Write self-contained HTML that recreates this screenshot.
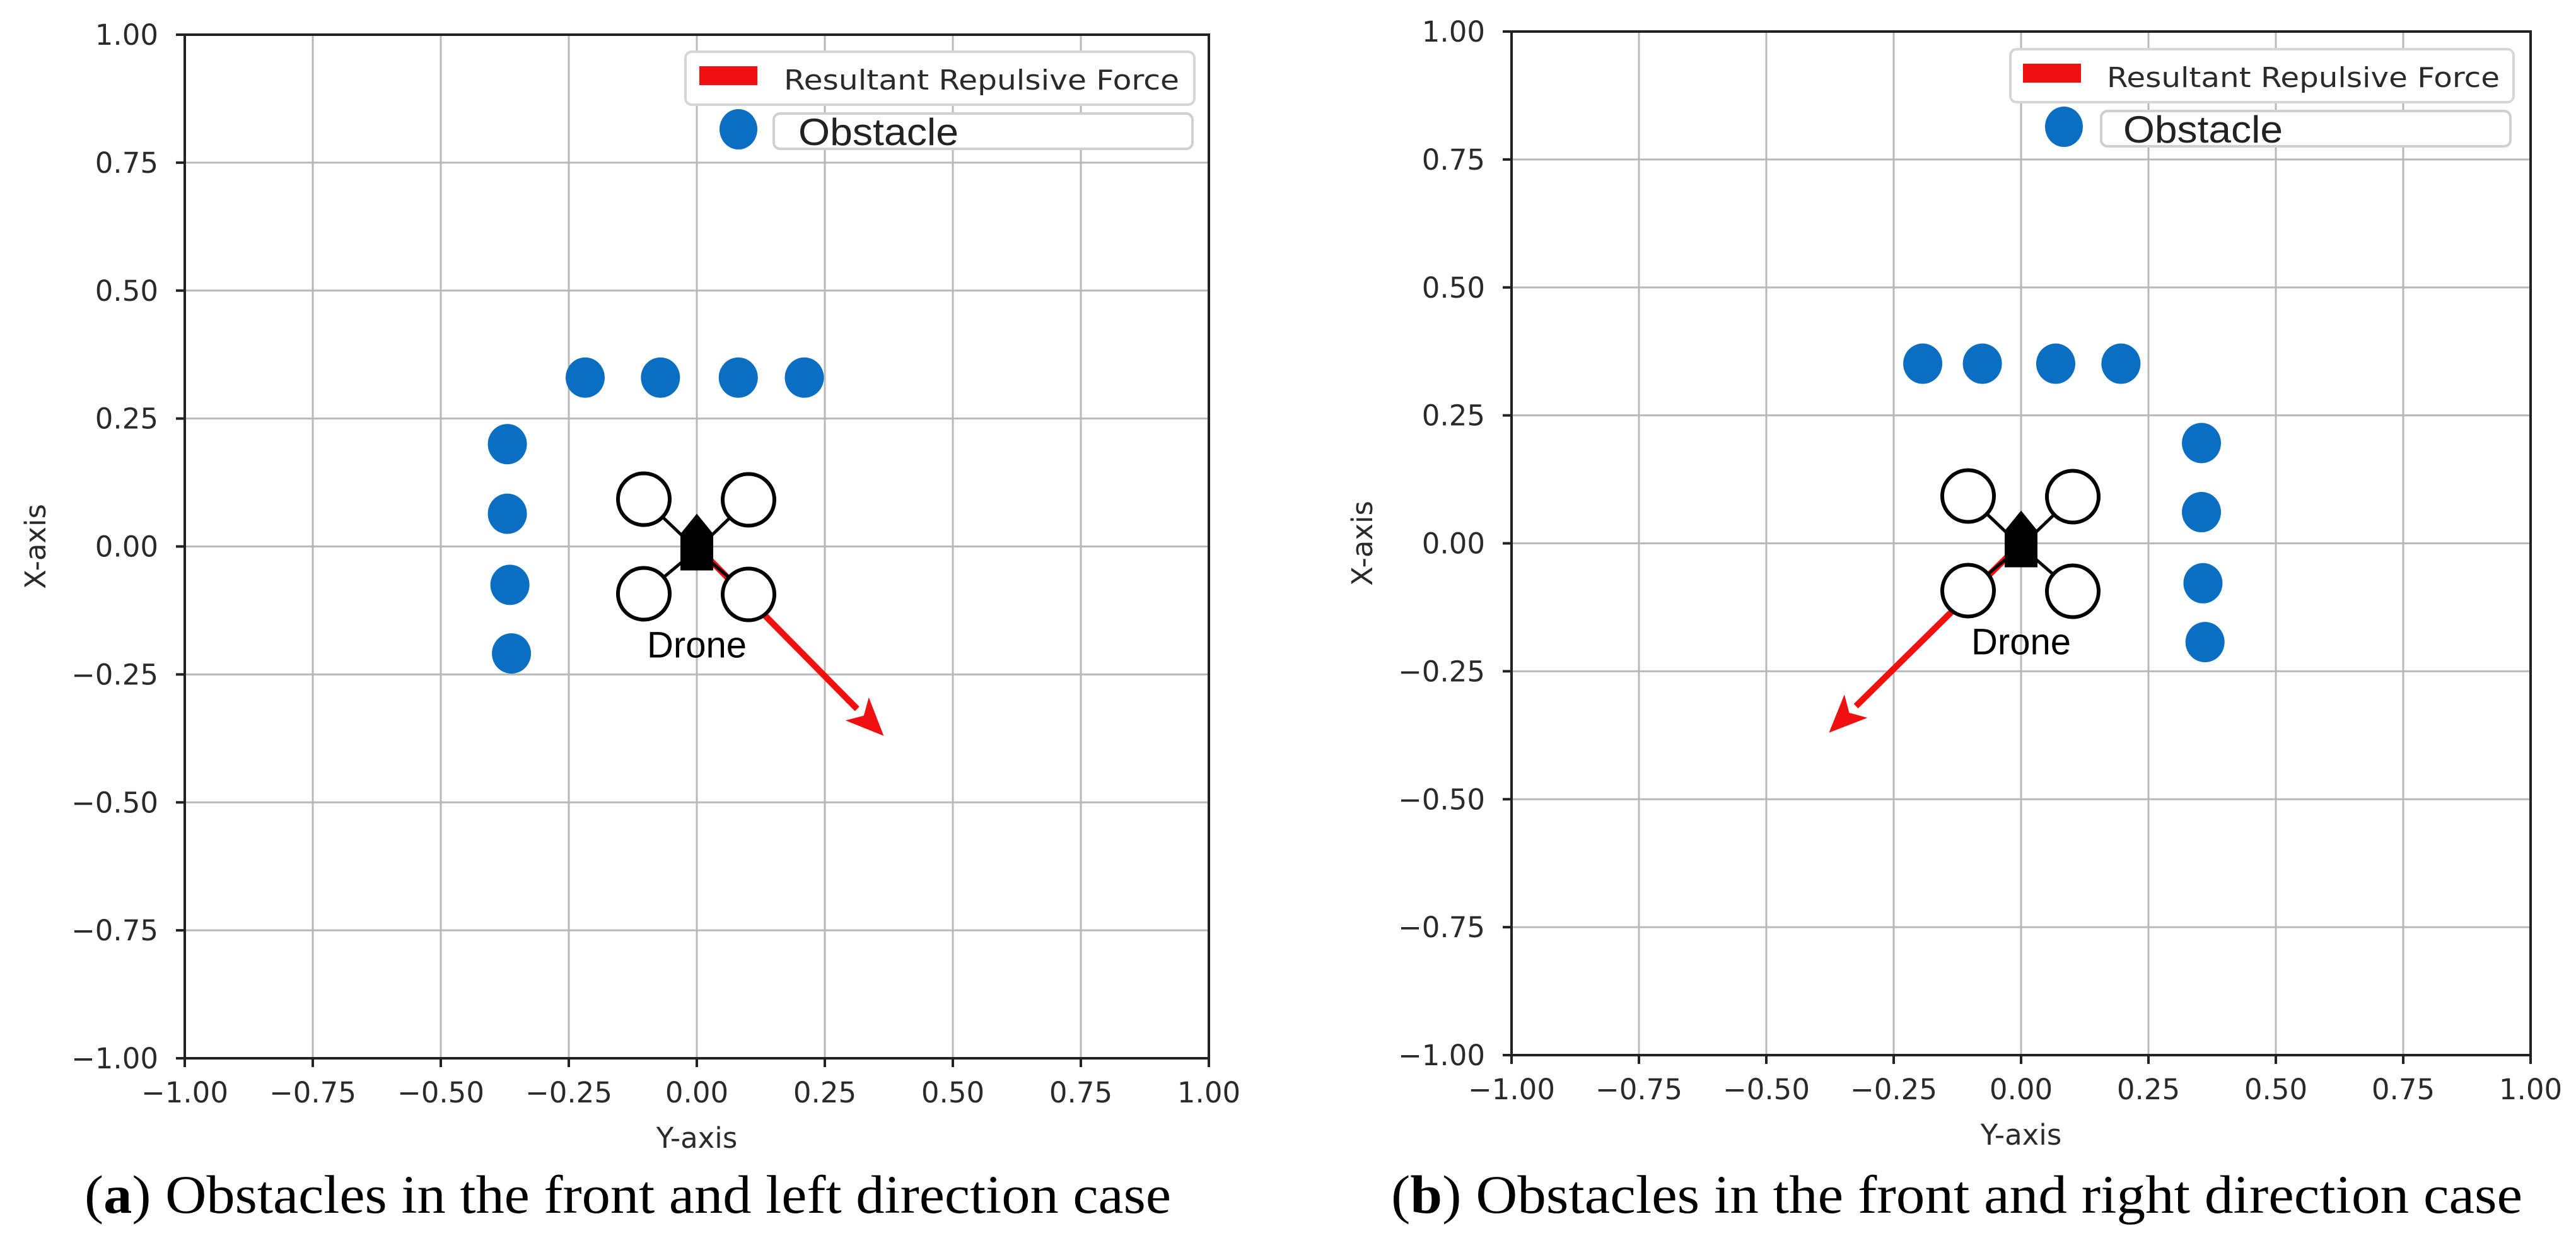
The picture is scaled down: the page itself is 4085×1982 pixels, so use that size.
<!DOCTYPE html>
<html><head><meta charset="utf-8"><style>
html,body{margin:0;padding:0;background:#fff}
svg{display:block}
</style></head>
<body>
<svg id="fig" xmlns="http://www.w3.org/2000/svg" width="4085" height="1982" viewBox="0 0 4085 1982">
<rect width="4085" height="1982" fill="#fff"/>
</svg>
<script>
const ticks = [-1, -0.75, -0.5, -0.25, 0, 0.25, 0.5, 0.75, 1];
const tickLabels = ["\u22121.00","\u22120.75","\u22120.50","\u22120.25","0.00","0.25","0.50","0.75","1.00"];
// Panel A data
const obstA_y = [-0.218, -0.071, 0.081, 0.21, -0.37, -0.37, -0.365, -0.362];
const obstA_x = [0.33, 0.33, 0.33, 0.33, 0.20, 0.064, -0.075, -0.209];
const forceA = [0.365, -0.37];
// Panel B data
const obstB_y = [-0.193, -0.076, 0.068, 0.196, 0.354, 0.354, 0.357, 0.361];
const obstB_x = [0.351, 0.351, 0.351, 0.351, 0.196, 0.061, -0.078, -0.193];
const forceB = [-0.377, -0.37];

const NS = "http://www.w3.org/2000/svg";
const svg = document.getElementById('fig');
function mk(tag, attrs, parent, text){
  const e = document.createElementNS(NS, tag);
  for (const k in attrs) e.setAttribute(k, attrs[k]);
  if (text !== undefined) e.textContent = text;
  (parent || svg).appendChild(e);
  return e;
}

function panel(cfg, oy, ox, force){
  const g = mk('g', {});
  
  
  const L = cfg.left, R = cfg.right, T = cfg.top, B = cfg.bottom;
  const sx = v => L + (v + 1) / 2 * (R - L);
  const sy = v => B - (v + 1) / 2 * (B - T);
  // grid
  ticks.forEach((t, i) => {
    const gx = mk('line', {x1: sx(t), x2: sx(t), y1: T, y2: B, stroke: '#b8b8b8', 'stroke-width': 3}, g);
    
    
    const gy = mk('line', {x1: L, x2: R, y1: sy(t), y2: sy(t), stroke: '#b8b8b8', 'stroke-width': 3}, g);
    
    
    // ticks
    mk('line', {x1: sx(t), x2: sx(t), y1: B, y2: B + 14, stroke: '#222', 'stroke-width': 4}, g);
    mk('line', {x1: L - 14, x2: L, y1: sy(t), y2: sy(t), stroke: '#222', 'stroke-width': 4}, g);
    const xl = mk('text', {x: sx(t), y: B + 70, 'text-anchor': 'middle', 'font-family': 'DejaVu Sans, sans-serif', 'font-size': 45, fill: '#2a2a2a'}, g, tickLabels[i]);
    
    
    const yl = mk('text', {x: L - 42, y: sy(t) + 16, 'text-anchor': 'end', 'font-family': 'DejaVu Sans, sans-serif', 'font-size': 45, fill: '#2a2a2a'}, g, tickLabels[i]);
    
    
  });
  const frame = mk('rect', {x: L, y: T, width: R - L, height: B - T, fill: 'none', stroke: '#222', 'stroke-width': 4}, g);
  
  
  const xt = mk('text', {x: (L + R) / 2, y: B + 142, 'text-anchor': 'middle', 'font-family': 'DejaVu Sans, sans-serif', 'font-size': 45, fill: '#2a2a2a'}, g, 'Y-axis');
  
  
  const yt = mk('text', {x: cfg.ytitleX, y: (T + B) / 2, 'text-anchor': 'middle', 'font-family': 'DejaVu Sans, sans-serif', 'font-size': 45, fill: '#2a2a2a', transform: `rotate(-90 ${cfg.ytitleX} ${(T + B) / 2})`}, g, 'X-axis');
  
  
  // obstacles
  oy.forEach((v, i) => {
    const c = mk('ellipse', {cx: sx(v), cy: sy(ox[i]), rx: 31, ry: 32, fill: '#0a6fc2'}, g);
    
    
  });
  // force arrow
  const x0 = sx(0), y0 = sy(0), x1 = sx(force[0]), y1 = sy(force[1]);
  const ang = Math.atan2(y1 - y0, x1 - x0);
  const hl = 60, hw = 26;
  const bx = x1 - hl * Math.cos(ang), by = y1 - hl * Math.sin(ang);
  const ar = mk('line', {x1: x0, y1: y0, x2: bx, y2: by, stroke: '#f01010', 'stroke-width': 10}, g);
  
  
  const px = -Math.sin(ang), py = Math.cos(ang);
  const head = mk('polygon', {points: `${x1},${y1} ${bx + px * hw},${by + py * hw} ${bx + hl*0.25*Math.cos(ang)},${by + hl*0.25*Math.sin(ang)} ${bx - px * hw},${by - py * hw}`, fill: '#f01010'}, g);
  
  
  // drone
  const dg = mk('g', {}, g);
  
  
  const cx = x0, cy = y0;
  const rot = [[-84, -75], [82, -74], [-84, 75], [82, 76]];
  rot.forEach(r => mk('line', {x1: cx, y1: cy + 5, x2: cx + r[0], y2: cy + r[1], stroke: '#000', 'stroke-width': 5}, dg));
  rot.forEach(r => mk('circle', {cx: cx + r[0], cy: cy + r[1], r: 41, fill: '#fff', stroke: '#000', 'stroke-width': 6}, dg));
  mk('polygon', {points: `${cx-26},${cy-20} ${cx},${cy-52} ${cx+26},${cy-20} ${cx+26},${cy+38} ${cx-26},${cy+38}`, fill: '#000'}, dg);
  const dl = mk('text', {x: cx, y: cy + 176, 'text-anchor': 'middle', 'font-family': 'Liberation Sans, sans-serif', 'font-size': 58, fill: '#000'}, g, 'Drone');
  
  
  // legend
  const lg = mk('g', {}, g);
  
  
  const lb = cfg.leg;
  mk('rect', {x: lb.b1x, y: lb.b1y, width: lb.b1w, height: 84, rx: 10, fill: '#fff', stroke: '#d6d6d6', 'stroke-width': 4}, lg);
  const patch = mk('rect', {x: lb.px, y: lb.b1y + 23, width: 92, height: 30, fill: '#f01010'}, lg);
  
  
  const t1 = mk('text', {x: lb.tx, y: lb.b1y + 60, 'font-family': 'DejaVu Sans, sans-serif', 'font-size': 44, fill: '#2a2a2a', textLength: lb.tw, lengthAdjust: 'spacingAndGlyphs'}, lg, 'Resultant Repulsive Force');
  
  
  mk('rect', {x: lb.b2x, y: lb.b1y + 98, width: lb.b2w, height: 56, rx: 10, fill: '#fff', stroke: '#cfcfcf', 'stroke-width': 4}, lg);
  const dot = mk('ellipse', {cx: lb.dx, cy: lb.b1y + 123, rx: 30, ry: 32, fill: '#0a6fc2'}, lg);
  
  
  const t2 = mk('text', {x: lb.ox, y: lb.b1y + 148, 'font-family': 'Liberation Sans, sans-serif', 'font-size': 60, fill: '#222', textLength: lb.ow, lengthAdjust: 'spacingAndGlyphs'}, lg, 'Obstacle');
  
  
  // caption
  const cap = mk('text', {x: cfg.capX, y: 1923, 'font-family': 'Liberation Serif, serif', 'font-size': 86, fill: '#000', textLength: cfg.capW, lengthAdjust: 'spacingAndGlyphs'}, g);
  
  
  mk('tspan', {}, cap, '(');
  mk('tspan', {'font-weight': 'bold'}, cap, cfg.letter);
  mk('tspan', {}, cap, ') ' + cfg.caption);
}

panel({name: 'panel-a-chart', left: 293, right: 1917, top: 55, bottom: 1678, ytitleX: 72,
  leg: {b1x: 1087, b1y: 82, b1w: 807, px: 1109, tx: 1243, tw: 627, b2x: 1227, b2w: 664, dx: 1171, ox: 1266, ow: 254},
  capX: 134, capW: 1723, letter: 'a', caption: 'Obstacles in the front and left direction case'}, obstA_y, obstA_x, forceA);

panel({name: 'panel-b-chart', left: 2397, right: 4013, top: 50, bottom: 1673, ytitleX: 2176,
  leg: {b1x: 3188, b1y: 78, b1w: 798, px: 3208, tx: 3341, tw: 623, b2x: 3332, b2w: 649, dx: 3273, ox: 3367, ow: 253},
  capX: 2206, capW: 1794, letter: 'b', caption: 'Obstacles in the front and right direction case'}, obstB_y, obstB_x, forceB);
</script>
</body></html>
